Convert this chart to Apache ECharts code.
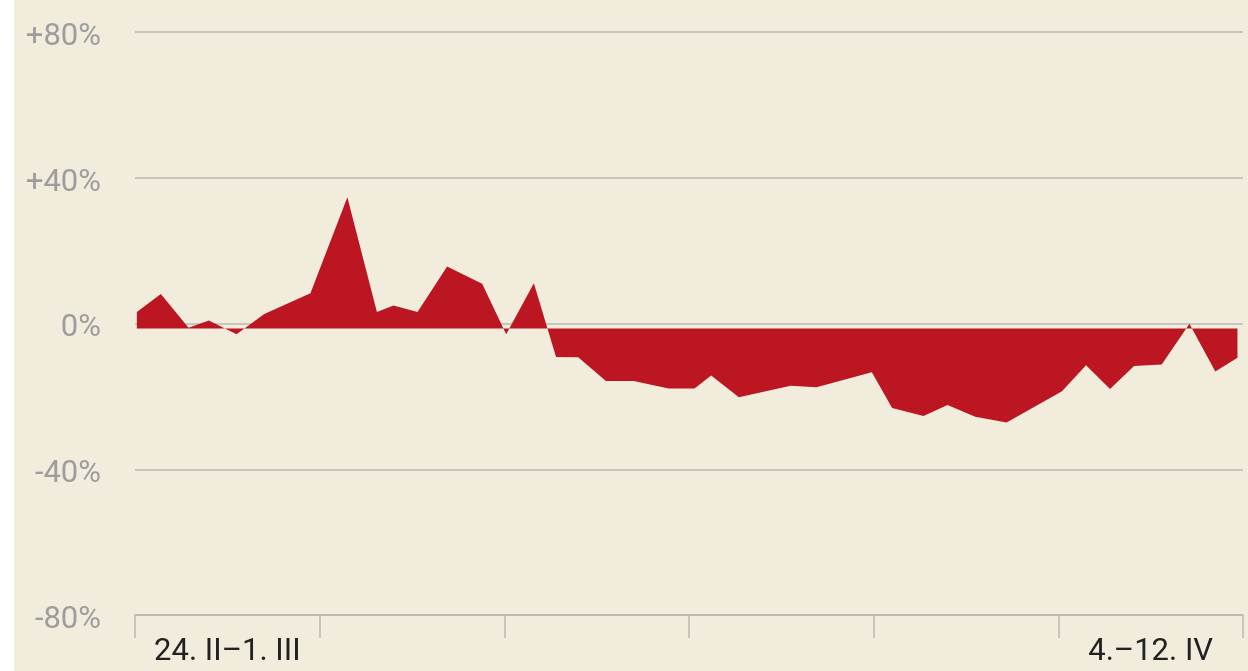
<!DOCTYPE html>
<html>
<head>
<meta charset="utf-8">
<script src="https://cdn.jsdelivr.net/npm/echarts@6/dist/echarts.min.js"></script>
<style>
  html, body { margin: 0; padding: 0; background: #ffffff; }
  #chart { position: absolute; left: 14px; top: 0; width: 1234px; height: 671px; background: #f2ecdd; }
</style>
</head>
<body>
<div id="chart"></div>
<script>
// Period labels (weekly bins on the x axis; only first and last are labelled)
const periods = ['24. II–1. III', '', '', '', '', '4.–12. IV'];
// Position of each observation along the x axis, in units of the period bins
const xPos = [0.01,0.14,0.29,0.40,0.55,0.70,0.95,1.15,1.31,1.40,1.53,1.69,1.88,2.01,2.16,2.28,2.40,2.55,2.70,2.89,3.03,3.12,3.27,3.55,3.69,3.99,4.10,4.27,4.40,4.55,4.72,5.02,5.15,5.28,5.41,5.56,5.71,5.85,5.97];
// Percentage change
const change = [4.5,9.5,0.2,2.2,-1.6,4.0,9.7,36.0,4.5,6.3,4.5,17.0,12.3,-1.6,12.4,-7.8,-7.9,-14.4,-14.4,-16.5,-16.5,-12.9,-18.9,-15.7,-16.1,-12.0,-21.8,-24.0,-21.0,-24.2,-25.8,-17.2,-10.1,-16.6,-10.3,-9.9,1.3,-11.8,-8.0];
// Y tick values
const yTicks = [-80, -40, 0, 40, 80];

const FONT = 'Roboto, "DejaVu Sans Condensed", sans-serif';
const chart = echarts.init(document.getElementById('chart'), null, { renderer: 'canvas' });
chart.setOption({
  backgroundColor: '#f2ecdd',
  animation: false,
  grid: [
    { left: 121, right: 5, top: 32, height: 583, containLabel: false, outerBoundsMode: 'none' },
    { left: 121, right: 5, top: 37, height: 583, containLabel: false, outerBoundsMode: 'none' }
  ],
  xAxis: [
    {
      gridIndex: 0, type: 'category', data: periods, boundaryGap: true, position: 'bottom',
      axisLine: { show: true, onZero: false, lineStyle: { color: '#bab8b0', width: 1.5 } },
      axisTick: { show: true, interval: 0, length: 23, lineStyle: { color: '#bab8b0', width: 1.5 } },
      axisLabel: { interval: 0, color: '#222222', fontSize: 31, fontFamily: FONT, margin: 22 }
    },
    { gridIndex: 1, type: 'value', min: 0, max: 6, show: false }
  ],
  yAxis: [
    {
      gridIndex: 0, type: 'value', min: yTicks[0], max: yTicks[yTicks.length - 1], interval: 40,
      axisLine: { show: false }, axisTick: { show: false }, axisLabel: { show: false },
      splitLine: { show: true, lineStyle: { color: '#bab8b0', width: 1.5 } }
    },
    {
      gridIndex: 1, type: 'value', min: yTicks[0], max: yTicks[yTicks.length - 1], interval: 40,
      axisLine: { show: false }, axisTick: { show: false }, splitLine: { show: false },
      axisLabel: {
        color: '#9d9d9d', fontSize: 31, fontFamily: FONT, margin: 34,
        formatter: v => (v > 0 ? '+' + v : '' + v) + '%'
      }
    }
  ],
  series: [{
    type: 'line',
    xAxisIndex: 1, yAxisIndex: 1,
    data: xPos.map((x, i) => [x, change[i]]),
    showSymbol: false,
    lineStyle: { width: 0 },
    areaStyle: { color: '#bb1622', opacity: 1, origin: 0 },
    itemStyle: { color: '#bb1622' }
  }]
});
</script>
</body>
</html>
